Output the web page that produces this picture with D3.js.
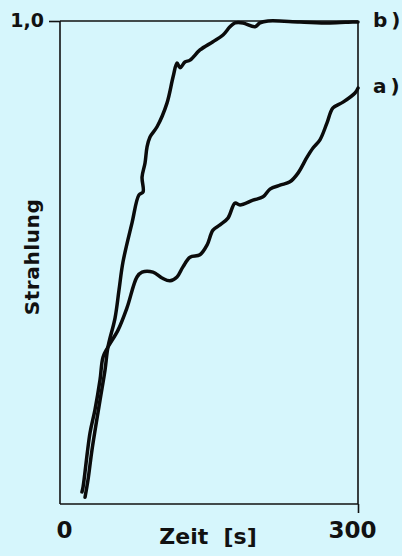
<!DOCTYPE html>
<html>
<head>
<meta charset="utf-8">
<script src="https://cdn.jsdelivr.net/npm/d3@7/dist/d3.min.js"></script>
<style>
  html, body { margin: 0; padding: 0; background: #d6f6fc; }
  svg { display: block; }
  text { font-family: "DejaVu Sans", sans-serif; fill: #111; }
</style>
</head>
<body>
<svg id="chart" width="402" height="556"></svg>
<script>
// Time axis (seconds) and radiation axis (relative)
const xDomain = [0, 300];
const yDomain = [0, 1];
const xTickValues = [0, 300];
const xTickLabels = ["0", "300"];
const yTickValues = [1];
const yTickLabels = ["1,0"];
const xTitle = "Zeit  [s]";
const yTitle = "Strahlung";
const seriesNames = ["a", "b"];

// Curve a): time [s]
const timeA = [22.1, 23.2, 30.2, 35.2, 40.3, 43.3, 48.3, 58.4, 67.4, 77.5, 82.6, 93.6, 102.7, 110.7,
  117.8, 123.8, 130.9, 140.9, 148.0, 154.0, 161.1, 169.1, 176.2, 181.2, 194.3, 204.4, 211.4, 221.5,
  231.5, 239.6, 248.7, 254.7, 261.7, 268.8, 274.8, 284.9, 297.0, 300];
// Curve a): relative radiation
const valueA = [0.025, 0.035, 0.147, 0.195, 0.257, 0.304, 0.325, 0.360, 0.406, 0.470, 0.480, 0.480, 0.468, 0.462,
  0.470, 0.491, 0.511, 0.516, 0.536, 0.567, 0.578, 0.592, 0.623, 0.619, 0.629, 0.636, 0.652, 0.660,
  0.667, 0.685, 0.718, 0.737, 0.754, 0.789, 0.820, 0.832, 0.851, 0.861];

// Curve b): time [s]
const timeB = [25.2, 28.2, 32.2, 40.3, 45.3, 48.3, 55.4, 59.4, 63.4, 72.5, 79.5, 83.6, 82.6, 85.6, 87.6,
  90.6, 97.7, 107.7, 113.8, 117.8, 120.8, 125.8, 130.9, 140.9, 154.0, 164.1, 171.1, 176.2, 184.2,
  196.3, 201.3, 209.4, 241.6, 271.8, 294.9, 300];
// Curve b): relative radiation
const valueB = [0.014, 0.050, 0.112, 0.215, 0.277, 0.325, 0.385, 0.443, 0.501, 0.582, 0.640, 0.646, 0.677, 0.706, 0.739,
  0.760, 0.781, 0.830, 0.884, 0.913, 0.903, 0.915, 0.919, 0.940, 0.957, 0.971, 0.988, 0.996, 0.996,
  0.988, 0.996, 1.0, 0.998, 0.996, 0.998, 0.998];

const svg = d3.select("#chart");
const W = 402, H = 556;
const margin = { top: 21, right: 44, bottom: 52, left: 60 };

const x = d3.scaleLinear().domain(xDomain).range([margin.left, W - margin.right]);
const y = d3.scaleLinear().domain(yDomain).range([H - margin.bottom, margin.top]);

// Frame around the plot
const frame = svg.append("g").attr("stroke", "#111").attr("stroke-width", 1.6).attr("fill", "none");
frame.append("line").attr("x1", x(0)).attr("x2", x(0)).attr("y1", y(1)).attr("y2", y(0));
frame.append("line").attr("x1", x(300)).attr("x2", x(300)).attr("y1", y(1)).attr("y2", y(0));
frame.append("line").attr("x1", x(0)).attr("x2", x(300)).attr("y1", y(0)).attr("y2", y(0));
frame.append("line").attr("x1", x(0)).attr("x2", x(300)).attr("y1", y(1)).attr("y2", y(1));

// Left axis: single tick at 1,0
const yAxis = d3.axisLeft(y).tickValues(yTickValues)
  .tickFormat((d, i) => yTickLabels[i]).tickSize(11).tickPadding(5);
const gy = svg.append("g").attr("transform", `translate(${x(0)},0)`).call(yAxis);
gy.select(".domain").remove();
gy.selectAll(".tick line").attr("stroke", "#111").attr("stroke-width", 1.6);
gy.selectAll(".tick text").attr("font-size", 19).attr("font-weight", "bold")
  .attr("font-family", "DejaVu Sans, sans-serif").attr("fill", "#111").attr("dy", "0.3em");

// Bottom axis: labels at 0 and 300, tick mark only at 300
const xAxis = d3.axisBottom(x).tickValues(xTickValues)
  .tickFormat((d, i) => xTickLabels[i]).tickSize(9).tickPadding(9);
const gx = svg.append("g").attr("transform", `translate(0,${y(0)})`).call(xAxis);
gx.select(".domain").remove();
gx.selectAll(".tick line").attr("stroke", "#111").attr("stroke-width", 1.6)
  .attr("opacity", d => d === 0 ? 0 : 1);
gx.selectAll(".tick text").attr("font-size", 23).attr("font-weight", "bold")
  .attr("font-family", "DejaVu Sans, sans-serif").attr("fill", "#111")
  .attr("dx", d => d === 0 ? 4 : -6);

// Axis titles
svg.append("text").attr("x", 208).attr("y", 544).attr("text-anchor", "middle")
  .attr("font-size", 22).attr("font-weight", "bold").attr("xml:space", "preserve")
  .style("white-space", "pre").text(xTitle);
svg.append("text").attr("transform", "translate(39,257) rotate(-90)").attr("text-anchor", "middle")
  .attr("font-size", 20).attr("font-weight", "bold").attr("letter-spacing", 0.6).text(yTitle);

// Curves
const line = d3.line().x(d => x(d[0])).y(d => y(d[1])).curve(d3.curveCatmullRom.alpha(0.5));
const series = [
  d3.zip(timeA, valueA),
  d3.zip(timeB, valueB)
];
svg.append("g").selectAll("path").data(series).join("path")
  .attr("d", line).attr("fill", "none").attr("stroke", "#0b0b0b")
  .attr("stroke-width", 3.5).attr("stroke-linejoin", "round").attr("stroke-linecap", "round");

// Series labels at the right-hand ends: letter, gap, closing parenthesis
const labels = svg.append("g").selectAll("text").data(series).join("text")
  .attr("x", x(300) + 15)
  .attr("y", d => y(d[d.length - 1][1]) - 2)
  .attr("dy", "0.35em")
  .attr("font-size", 20).attr("font-weight", "bold");
labels.append("tspan").text((d, i) => seriesNames[i]);
labels.append("tspan").attr("dx", 4).text(")");
</script>
</body>
</html>
